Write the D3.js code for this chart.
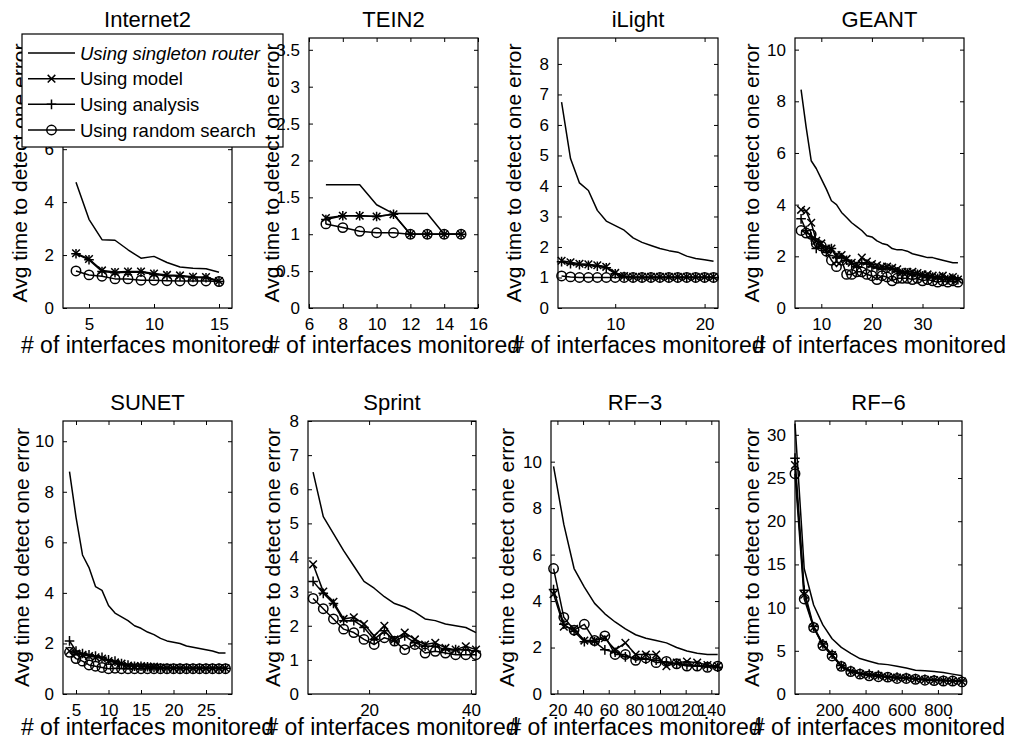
<!DOCTYPE html>
<html><head><meta charset="utf-8">
<script src="https://cdn.jsdelivr.net/npm/d3@7"></script>
<style>
body{margin:0;background:#fff}
svg{display:block}
text{font-family:"Liberation Sans",Arial,Helvetica,sans-serif;fill:#000}
</style>
</head><body>
<svg id="chart" width="1023" height="740"></svg>
<script>
// ---------- data ----------
const titles = ["Internet2", "TEIN2", "iLight", "GEANT", "SUNET", "Sprint", "RF\u22123", "RF\u22126"];
const seriesNames = ["Using singleton router", "Using model", "Using analysis", "Using random search"];
const seriesMarkers = ["none", "x", "+", "o"];
const xLabel = "# of interfaces monitored";
const yLabel = "Avg time to detect one error";

const internet2X = [4,5,6,7,8,9,10,11,12,13,14,15];
const internet2Singleton = [4.75,3.35,2.58,2.56,2.2,1.88,1.95,1.72,1.55,1.5,1.48,1.35];
const internet2Model = [2.07,1.85,1.42,1.36,1.38,1.38,1.3,1.25,1.23,1.18,1.17,1.02];
const internet2Analysis = [2.05,1.82,1.38,1.33,1.35,1.35,1.27,1.22,1.2,1.15,1.14,1.0];
const internet2Random = [1.4,1.25,1.2,1.1,1.1,1.05,1.05,1.03,1.02,1.02,1.02,1.0];

const tein2X = [7,8,9,10,11,12,13,14,15];
const tein2Singleton = [1.67,1.67,1.67,1.4,1.28,1.28,1.28,1.0,1.0];
const tein2Model = [1.22,1.25,1.25,1.24,1.27,1.0,1.0,1.0,1.0];
const tein2Analysis = [1.2,1.25,1.25,1.24,1.27,1.0,1.0,1.0,1.0];
const tein2Random = [1.14,1.09,1.04,1.02,1.02,1.0,1.0,1.0,1.0];

const ilightX = [4,5,6,7,8,9,10,11,12,13,14,15,16,17,18,19,20,21];
const ilightSingleton = [6.75,4.9,4.1,3.85,3.2,2.85,2.7,2.55,2.3,2.15,2.05,1.95,1.88,1.83,1.7,1.62,1.58,1.53];
const ilightModel = [1.55,1.5,1.45,1.43,1.4,1.35,1.15,1.05,1.02,1.02,1.02,1.02,1.02,1.02,1.02,1.02,1.02,1.02];
const ilightAnalysis = [1.52,1.45,1.42,1.4,1.37,1.32,1.12,1.03,1.0,1.0,1.0,1.0,1.0,1.0,1.0,1.0,1.0,1.0];
const ilightRandom = [1.05,1.02,1.0,1.0,1.0,1.0,1.0,1.0,1.0,1.0,1.0,1.0,1.0,1.0,1.0,1.0,1.0,1.0];

const geantX = [6,7,8,9,10,11,12,13,14,15,16,17,18,19,20,21,22,23,24,25,26,27,28,29,30,31,32,33,34,35,36,37];
const geantSingleton = [8.45,7.0,5.7,5.4,5.0,4.6,4.15,4.0,3.7,3.5,3.3,3.15,3.0,2.8,2.75,2.6,2.5,2.45,2.3,2.25,2.25,2.2,2.1,2.05,2.0,1.95,1.95,1.9,1.85,1.8,1.75,1.75];
const geantModel = [3.8,3.75,3.3,2.6,2.5,2.3,2.3,2.05,2.05,1.9,1.75,1.7,1.95,1.8,1.7,1.65,1.6,1.6,1.55,1.5,1.4,1.4,1.4,1.35,1.3,1.3,1.25,1.2,1.25,1.15,1.2,1.1];
const geantAnalysis = [3.45,3.0,2.75,2.3,2.4,2.15,2.3,1.95,1.95,1.85,1.7,1.6,1.75,1.7,1.6,1.55,1.5,1.55,1.5,1.4,1.35,1.35,1.3,1.3,1.25,1.2,1.2,1.15,1.2,1.1,1.15,1.1];
const geantRandom = [3.0,2.9,2.85,2.5,2.4,2.2,1.85,1.6,1.85,1.3,1.3,1.4,1.4,1.3,1.25,1.1,1.25,1.2,1.05,1.15,1.15,1.15,1.1,1.15,1.05,1.1,1.05,1.0,1.05,1.0,1.05,1.0];

const sunetX = [4,5,6,7,8,9,10,11,12,13,14,15,16,17,18,19,20,21,22,23,24,25,26,27,28];
const sunetSingleton = [8.8,7.0,5.5,5.0,4.25,4.1,3.5,3.2,3.05,2.9,2.7,2.6,2.45,2.35,2.2,2.1,2.05,2.0,1.9,1.85,1.8,1.75,1.7,1.62,1.62];
const sunetModel = [1.7,1.6,1.55,1.5,1.45,1.4,1.3,1.25,1.2,1.12,1.1,1.1,1.08,1.08,1.05,1.04,1.03,1.03,1.02,1.02,1.02,1.02,1.02,1.02,1.02];
const sunetAnalysis = [2.1,1.7,1.6,1.55,1.5,1.45,1.35,1.3,1.2,1.15,1.1,1.1,1.08,1.05,1.03,1.02,1.02,1.02,1.02,1.02,1.02,1.02,1.02,1.02,1.02];
const sunetRandom = [1.65,1.4,1.3,1.15,1.1,1.05,1.0,1.02,1.0,1.0,1.0,1.0,1.0,1.0,1.0,1.0,1.0,1.0,1.0,1.0,1.0,1.0,1.0,1.0,1.0];

const sprintX = [9,11,13,15,17,19,21,23,25,27,29,31,33,35,37,39,41];
const sprintSingleton = [6.5,5.2,4.7,4.2,3.75,3.3,3.1,2.85,2.65,2.55,2.4,2.2,2.15,2.05,2.0,1.95,1.8];
const sprintModel = [3.8,3.0,2.7,2.2,2.25,2.05,1.7,2.0,1.6,1.8,1.6,1.45,1.5,1.35,1.3,1.4,1.3];
const sprintAnalysis = [3.3,2.95,2.65,2.15,2.15,1.95,1.6,1.85,1.55,1.7,1.5,1.4,1.4,1.3,1.3,1.3,1.25];
const sprintRandom = [2.8,2.5,2.2,1.9,1.8,1.6,1.45,1.65,1.55,1.3,1.45,1.2,1.25,1.2,1.15,1.15,1.15];

const rf3X = [17,25,33,41,49,57,65,73,81,89,97,105,113,121,129,137,145];
const rf3Singleton = [9.8,7.3,5.4,4.6,3.9,3.45,3.1,2.8,2.55,2.4,2.3,2.2,2.0,1.85,1.75,1.7,1.7];
const rf3Model = [4.3,2.9,2.8,2.3,2.3,2.4,1.9,2.2,1.7,1.7,1.7,1.2,1.35,1.4,1.35,1.25,1.2];
const rf3Analysis = [4.5,3.0,2.7,2.25,2.25,1.9,1.8,1.6,1.55,1.5,1.45,1.35,1.3,1.25,1.2,1.2,1.15];
const rf3Random = [5.4,3.3,2.75,3.0,2.3,2.5,1.7,1.7,1.45,1.55,1.35,1.4,1.3,1.2,1.2,1.15,1.2];

const rf6X = [10,61,113,164,215,266,318,369,420,471,523,574,625,676,728,779,830,881,933];
const rf6Singleton = [31.3,14.5,10.3,8.0,6.4,5.4,4.7,4.1,3.8,3.5,3.4,3.2,3.0,2.75,2.7,2.6,2.5,2.3,2.1];
const rf6Model = [26.5,11.5,7.7,5.7,4.5,3.2,2.6,2.3,2.2,2.1,1.95,1.9,1.85,1.75,1.65,1.6,1.55,1.5,1.45];
const rf6Analysis = [27.3,12.0,7.8,5.8,4.6,3.3,2.7,2.4,2.3,2.2,2.0,1.95,1.9,1.8,1.7,1.65,1.6,1.55,1.5];
const rf6Random = [25.5,11.0,7.7,5.6,4.4,3.2,2.6,2.3,2.1,2.0,1.95,1.8,1.8,1.7,1.6,1.55,1.5,1.5,1.4];

const xTicks = [[5,10,15],[6,8,10,12,14,16],[10,20],[10,20,30],[5,10,15,20,25],[20,40],[20,40,60,80,100,120,140],[200,400,600,800]];
const yTicks = [[0,2,4,6,8,10],[0,0.5,1,1.5,2,2.5,3,3.5],[0,1,2,3,4,5,6,7,8],[0,2,4,6,8,10],[0,2,4,6,8,10],[0,1,2,3,4,5,6,7,8],[0,2,4,6,8,10],[0,5,10,15,20,25,30]];
const xDomains = [[3,16],[6,16],[3.6,21.5],[4.8,38.2],[3,29],[8,41],[15,146],[10,933]];
const yDomains = [[0,10.2],[0,3.66],[0,8.85],[0,10.45],[0,10.8],[0,8],[0,11.75],[0,31.6]];

// ---------- layout (pixel boxes) ----------
const boxes = [
  {l:63, r:232, t:38, b:308, yo:43, xl:45},
  {l:309, r:478, t:38, b:308, yo:37, xl:45},
  {l:558, r:718, t:38, b:308, yo:44, xl:45},
  {l:795, r:964, t:38, b:308, yo:43, xl:45},
  {l:63, r:232, t:421, b:694, yo:41, xl:41},
  {l:308, r:476, t:421, b:694, yo:35, xl:41},
  {l:551, r:719, t:421, b:694, yo:44, xl:41},
  {l:795, r:962, t:421, b:694, yo:43, xl:41}
];

const panelData = [
  [internet2X, [internet2Singleton, internet2Model, internet2Analysis, internet2Random]],
  [tein2X, [tein2Singleton, tein2Model, tein2Analysis, tein2Random]],
  [ilightX, [ilightSingleton, ilightModel, ilightAnalysis, ilightRandom]],
  [geantX, [geantSingleton, geantModel, geantAnalysis, geantRandom]],
  [sunetX, [sunetSingleton, sunetModel, sunetAnalysis, sunetRandom]],
  [sprintX, [sprintSingleton, sprintModel, sprintAnalysis, sprintRandom]],
  [rf3X, [rf3Singleton, rf3Model, rf3Analysis, rf3Random]],
  [rf6X, [rf6Singleton, rf6Model, rf6Analysis, rf6Random]]
];

const svg = d3.select("#chart");
const LW = 1.5;

function drawMarker(g, type, x, y) {
  if (type === "x") {
    const s = 3.8;
    g.append("path").attr("d", `M${x-s},${y-s}L${x+s},${y+s}M${x-s},${y+s}L${x+s},${y-s}`)
      .attr("stroke", "#000").attr("stroke-width", LW).attr("fill", "none");
  } else if (type === "+") {
    const s = 4.8;
    g.append("path").attr("d", `M${x-s},${y}L${x+s},${y}M${x},${y-s}L${x},${y+s}`)
      .attr("stroke", "#000").attr("stroke-width", LW).attr("fill", "none");
  } else if (type === "o") {
    g.append("circle").attr("cx", x).attr("cy", y).attr("r", 4.7)
      .attr("stroke", "#000").attr("stroke-width", LW).attr("fill", "none");
  }
}

function drawPanel(i) {
  const bx = boxes[i];
  const g = svg.append("g");
  const x = d3.scaleLinear().domain(xDomains[i]).range([bx.l, bx.r]);
  const y = d3.scaleLinear().domain(yDomains[i]).range([bx.b, bx.t]);
  const fmt = d3.format("~g");

  g.append("rect").attr("x", bx.l).attr("y", bx.t).attr("width", bx.r - bx.l).attr("height", bx.b - bx.t)
    .attr("fill", "#fff");

  const tl = 4;
  g.append("g").attr("transform", `translate(0,${bx.b})`)
    .call(d3.axisBottom(x).tickValues(xTicks[i]).tickSize(-tl).tickPadding(10).tickFormat(fmt))
    .call(a => a.select(".domain").remove())
    .call(a => a.selectAll("text").attr("font-size", 17).attr("font-family", "Liberation Sans, Arial, sans-serif").attr("fill", "#000"));
  g.append("g").attr("transform", `translate(0,${bx.t})`)
    .call(d3.axisTop(x).tickValues(xTicks[i]).tickSize(-tl).tickFormat(""))
    .call(a => a.select(".domain").remove());
  g.append("g").attr("transform", `translate(${bx.l},0)`)
    .call(d3.axisLeft(y).tickValues(yTicks[i]).tickSize(-tl).tickPadding(tl + 5).tickFormat(fmt))
    .call(a => a.select(".domain").remove())
    .call(a => a.selectAll("text").attr("font-size", 17).attr("font-family", "Liberation Sans, Arial, sans-serif").attr("fill", "#000"));
  g.append("g").attr("transform", `translate(${bx.r},0)`)
    .call(d3.axisRight(y).tickValues(yTicks[i]).tickSize(-tl).tickFormat(""))
    .call(a => a.select(".domain").remove());
  g.selectAll(".tick line").attr("stroke", "#000").attr("stroke-width", 1);

  g.append("rect").attr("x", bx.l).attr("y", bx.t).attr("width", bx.r - bx.l).attr("height", bx.b - bx.t)
    .attr("fill", "none").attr("stroke", "#000").attr("stroke-width", 1.2);

  const xs = panelData[i][0];
  panelData[i][1].forEach((vals, s) => {
    const pts = xs.map((xv, k) => [x(xv), y(vals[k])]);
    g.append("path").attr("d", d3.line()(pts)).attr("fill", "none")
      .attr("stroke", "#000").attr("stroke-width", LW).attr("stroke-linejoin", "round");
    if (seriesMarkers[s] !== "none") pts.forEach(p => drawMarker(g, seriesMarkers[s], p[0], p[1]));
  });

  g.append("text").attr("x", (bx.l + bx.r) / 2).attr("y", bx.t - 11).attr("text-anchor", "middle")
    .attr("font-size", 22).text(titles[i]);
  g.append("text").attr("x", (bx.l + bx.r) / 2).attr("y", bx.b + bx.xl).attr("text-anchor", "middle")
    .attr("font-size", 23).text(xLabel);
  const cy = (bx.t + bx.b) / 2;
  g.append("text").attr("transform", `translate(${bx.l - bx.yo},${cy}) rotate(-90)`)
    .attr("text-anchor", "middle").attr("dy", "0.35em").attr("font-size", 21).text(yLabel);
}

function drawLegend() {
  const g = svg.append("g");
  const L = 22, T = 34, R = 283, B = 147;
  g.append("rect").attr("x", L).attr("y", T).attr("width", R - L).attr("height", B - T)
    .attr("fill", "#fff").attr("stroke", "#000").attr("stroke-width", 1.2);
  const rowY = d3.scalePoint().domain(seriesNames).range([53, 130]);
  seriesNames.forEach((name, s) => {
    const yy = rowY(name);
    g.append("path").attr("d", `M28,${yy}L75,${yy}`).attr("stroke", "#000").attr("stroke-width", LW);
    if (seriesMarkers[s] !== "none") drawMarker(g, seriesMarkers[s], 51.5, yy);
    g.append("text").attr("x", 80).attr("y", yy).attr("dy", "0.36em").attr("font-size", 18.5)
      .attr("font-style", s === 0 ? "italic" : "normal").text(name);
  });
}

drawPanel(0);
drawLegend();
for (let i = 1; i < 8; i++) drawPanel(i);
</script>
</body></html>
